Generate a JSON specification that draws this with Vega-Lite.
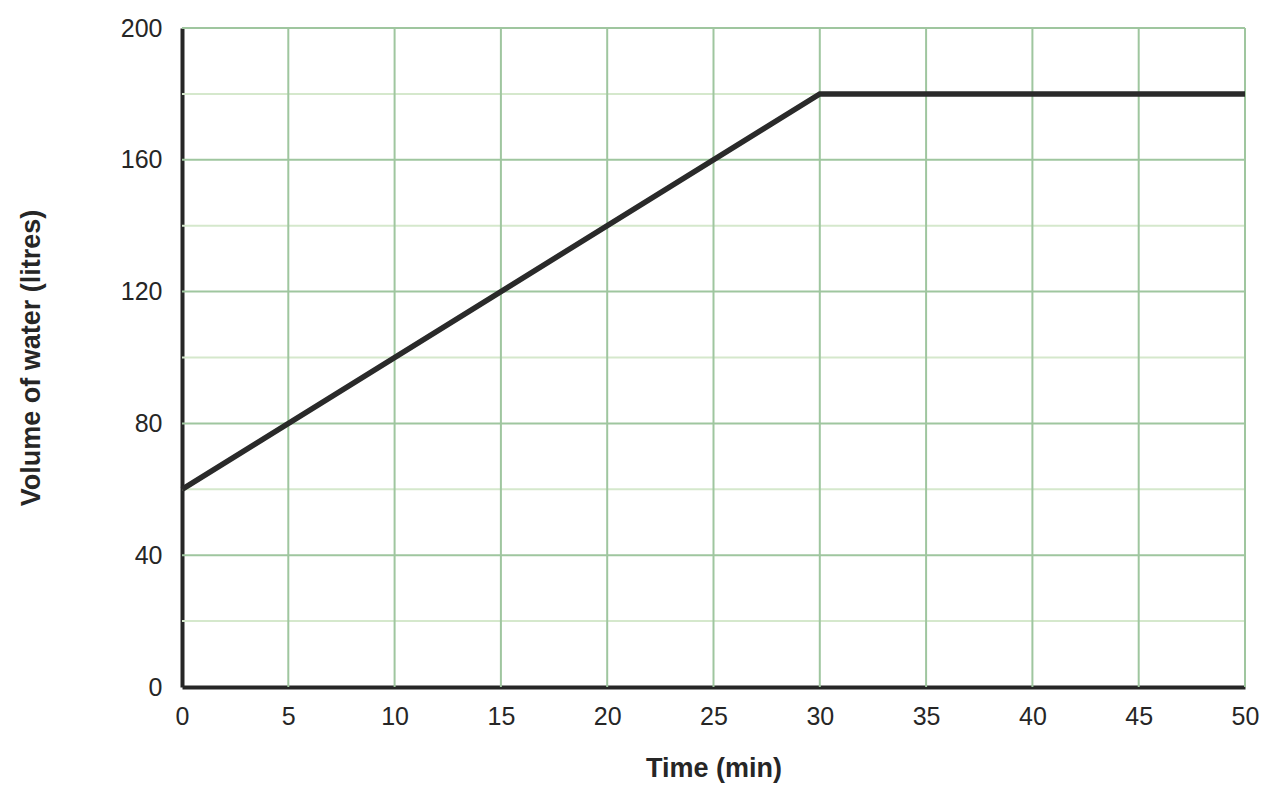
{
  "$schema": "https://vega.github.io/schema/vega-lite/v6.json",
  "width": 1063,
  "height": 659,
  "autosize": "none",
  "padding": {"left": 182, "top": 28, "right": 33, "bottom": 116},
  "background": "white",
  "config": {
    "view": {"stroke": null},
    "font": "Liberation Sans",
    "axis": {
      "grid": false,
      "ticks": false,
      "domainColor": "#262626",
      "domainWidth": 4,
      "labelFont": "Liberation Sans",
      "labelFontSize": 25,
      "labelColor": "#262626",
      "labelFlush": false,
      "titleFont": "Liberation Sans",
      "titleFontSize": 27,
      "titleFontWeight": "bold",
      "titleColor": "#262626"
    },
    "axisX": {"labelPadding": 17, "titlePadding": 26},
    "axisY": {"labelPadding": 20, "titlePadding": 75}
  },
  "datasets": {
    "water": [
      {"time": 0, "volume": 60},
      {"time": 30, "volume": 180},
      {"time": 50, "volume": 180}
    ],
    "vgrid": [
      {"t": 5}, {"t": 10}, {"t": 15}, {"t": 20}, {"t": 25},
      {"t": 30}, {"t": 35}, {"t": 40}, {"t": 45}, {"t": 50}
    ],
    "hmajor": [
      {"v": 40}, {"v": 80}, {"v": 120}, {"v": 160}, {"v": 200}
    ],
    "hminor": [
      {"v": 20}, {"v": 60}, {"v": 100}, {"v": 140}, {"v": 180}
    ]
  },
  "layer": [
    {
      "data": {"name": "hminor"},
      "mark": {"type": "rule", "color": "#d5e8cc", "strokeWidth": 2},
      "encoding": {
        "y": {"field": "v", "type": "quantitative", "scale": {"domain": [0, 200], "nice": false},
          "axis": {"values": [0, 40, 80, 120, 160, 200], "title": "Volume of water (litres)"}}
      }
    },
    {
      "data": {"name": "hmajor"},
      "mark": {"type": "rule", "color": "#9fc69f", "strokeWidth": 2},
      "encoding": {
        "y": {"field": "v", "type": "quantitative", "scale": {"domain": [0, 200], "nice": false},
          "axis": {"values": [0, 40, 80, 120, 160, 200], "title": "Volume of water (litres)"}}
      }
    },
    {
      "data": {"name": "vgrid"},
      "mark": {"type": "rule", "color": "#9fc69f", "strokeWidth": 2},
      "encoding": {
        "x": {"field": "t", "type": "quantitative", "scale": {"domain": [0, 50], "nice": false},
          "axis": {"values": [0, 5, 10, 15, 20, 25, 30, 35, 40, 45, 50], "title": "Time (min)"}}
      }
    },
    {
      "data": {"name": "water"},
      "mark": {"type": "line", "color": "#2a2a2a", "strokeWidth": 5.5, "strokeCap": "butt"},
      "encoding": {
        "x": {
          "field": "time",
          "type": "quantitative",
          "scale": {"domain": [0, 50], "nice": false},
          "axis": {"values": [0, 5, 10, 15, 20, 25, 30, 35, 40, 45, 50], "title": "Time (min)"}
        },
        "y": {
          "field": "volume",
          "type": "quantitative",
          "scale": {"domain": [0, 200], "nice": false},
          "axis": {"values": [0, 40, 80, 120, 160, 200], "title": "Volume of water (litres)"}
        }
      }
    }
  ]
}
